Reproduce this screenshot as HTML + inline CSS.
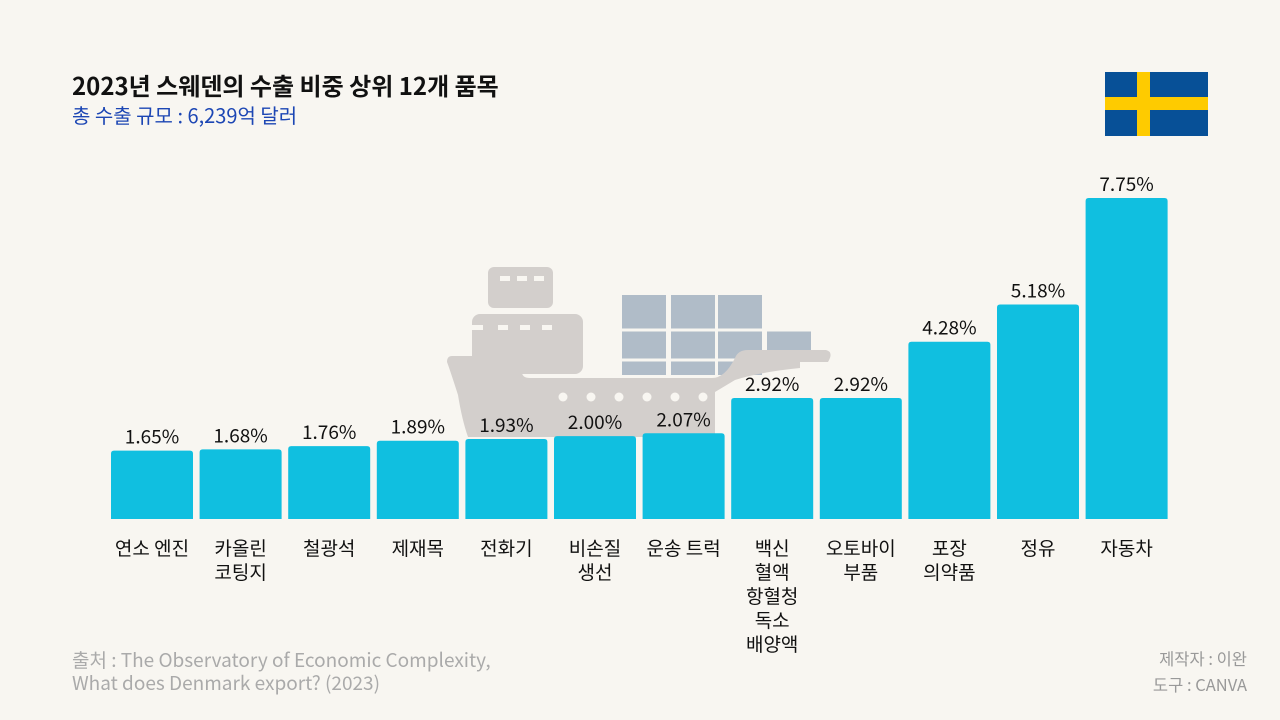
<!DOCTYPE html>
<html><head><meta charset="utf-8">
<style>
body{margin:0;width:1280px;height:720px;background:#f8f6f1;font-family:"Noto Sans CJK KR","Liberation Sans",sans-serif;overflow:hidden;position:relative}
.t{position:absolute;white-space:nowrap}
svg text{font-family:"Noto Sans CJK KR","Liberation Sans",sans-serif}
</style></head><body>
<div class="t" style="left:72px;top:68px;font-size:24px;line-height:34px;font-weight:bold;color:#111">2023년 스웨덴의 수출 비중 상위 12개 품목</div>
<div class="t" style="left:72px;top:101px;font-size:20px;line-height:28px;color:#1c46b4">총 수출 규모 : 6,239억 달러</div>
<svg style="position:absolute;left:1105px;top:72px" width="103" height="64"><rect width="103" height="64" fill="#075097"/><rect x="32" width="13" height="64" fill="#fecb00"/><rect y="25" width="103" height="13" fill="#fecb00"/></svg>
<svg id="c" style="position:absolute;left:0;top:0" width="1280" height="720">
<g>
<rect x="488" y="267" width="65" height="41" rx="6" fill="#d3cfcc"/>
<rect x="472" y="314" width="111" height="60" rx="8" fill="#d3cfcc"/>
<rect x="622" y="295" width="44" height="80" fill="#b0bcc8"/><rect x="671" y="295" width="44" height="80" fill="#b0bcc8"/><rect x="718" y="295" width="44" height="80" fill="#b0bcc8"/><rect x="767" y="329" width="44" height="30" fill="#b0bcc8"/>
<line x1="622" y1="330" x2="811" y2="330" stroke="#f8f6f1" stroke-width="3"/><line x1="622" y1="360" x2="811" y2="360" stroke="#f8f6f1" stroke-width="3"/>
<path d="M452 356 L515 356 Q522 356 522 366 L522 372 Q522 378 530 378 L712 378 Q725 378 735 358 Q738 350 748 350 L826 350 Q834 352 828 362 L800 362 L800 368 Q760 372 735 380 L715 392 L715 437 L468 437 Q462 420 458 395 Q450 370 447 362 Q447 356 452 356 Z" fill="#d3cfcc"/>
<g fill="#f8f6f1"><circle cx="563" cy="397" r="4.5"/><circle cx="591" cy="397" r="4.5"/><circle cx="619" cy="397" r="4.5"/><circle cx="647" cy="397" r="4.5"/><circle cx="675" cy="397" r="4.5"/><circle cx="703" cy="397" r="4.5"/></g>
<g fill="#f8f6f1"><rect x="500" y="276" width="10" height="5"/><rect x="517" y="276" width="10" height="5"/><rect x="534" y="276" width="10" height="5"/><rect x="471" y="325" width="12" height="5"/><rect x="498" y="325" width="10" height="5"/><rect x="520" y="325" width="10" height="5"/><rect x="542" y="325" width="10" height="5"/></g>
</g>
<g id="bars"></g>
</svg>
<div class="t" style="left:72px;top:648px;font-size:19px;color:#aaa;line-height:23px">출처 : The Observatory of Economic Complexity,<br>What does Denmark export? (2023)</div>
<div class="t" style="right:33px;top:645px;font-size:16.5px;color:#999;line-height:26px;text-align:right">제작자 : 이완<br>도구 : CANVA</div>
<script>
const categories=[["연소 엔진"],["카올린","코팅지"],["철광석"],["제재목"],["전화기"],["비손질","생선"],["운송 트럭"],["백신","혈액","항혈청","독소","배양액"],["오토바이","부품"],["포장","의약품"],["정유"],["자동차"]];
const values=[1.65,1.68,1.76,1.89,1.93,2.00,2.07,2.92,2.92,4.28,5.18,7.75];
const labels=["1.65%","1.68%","1.76%","1.89%","1.93%","2.00%","2.07%","2.92%","2.92%","4.28%","5.18%","7.75%"];
const base=519,scale=321/7.75,x0=111,step=88.6,bw=82;
const y=v=>base-v*scale, x=i=>x0+i*step;
const g=document.getElementById('bars');const ns="http://www.w3.org/2000/svg";
values.forEach((v,i)=>{
 const r=document.createElementNS(ns,'path');
 const X=x(i),Y=y(v);
 r.setAttribute('d',`M${X} ${base} L${X} ${Y+3} Q${X} ${Y} ${X+3} ${Y} L${X+bw-3} ${Y} Q${X+bw} ${Y} ${X+bw} ${Y+3} L${X+bw} ${base} Z`);
 r.setAttribute('fill','#10bfe0');
 
 
 g.appendChild(r);
 const t=document.createElementNS(ns,'text');
 t.setAttribute('x',X+bw/2);t.setAttribute('y',Y-7);t.setAttribute('text-anchor','middle');
 t.setAttribute('font-size','19');t.setAttribute('fill','#111');t.textContent=labels[i];
 
 
 g.appendChild(t);
 categories[i].forEach((s,j)=>{
  const c=document.createElementNS(ns,'text');
  c.setAttribute('x',X+bw/2);c.setAttribute('y',555+j*24);c.setAttribute('text-anchor','middle');
  c.setAttribute('font-size','19');c.setAttribute('fill','#111');c.textContent=s;
  
  
  g.appendChild(c);
 });
});
</script>
</body></html>
